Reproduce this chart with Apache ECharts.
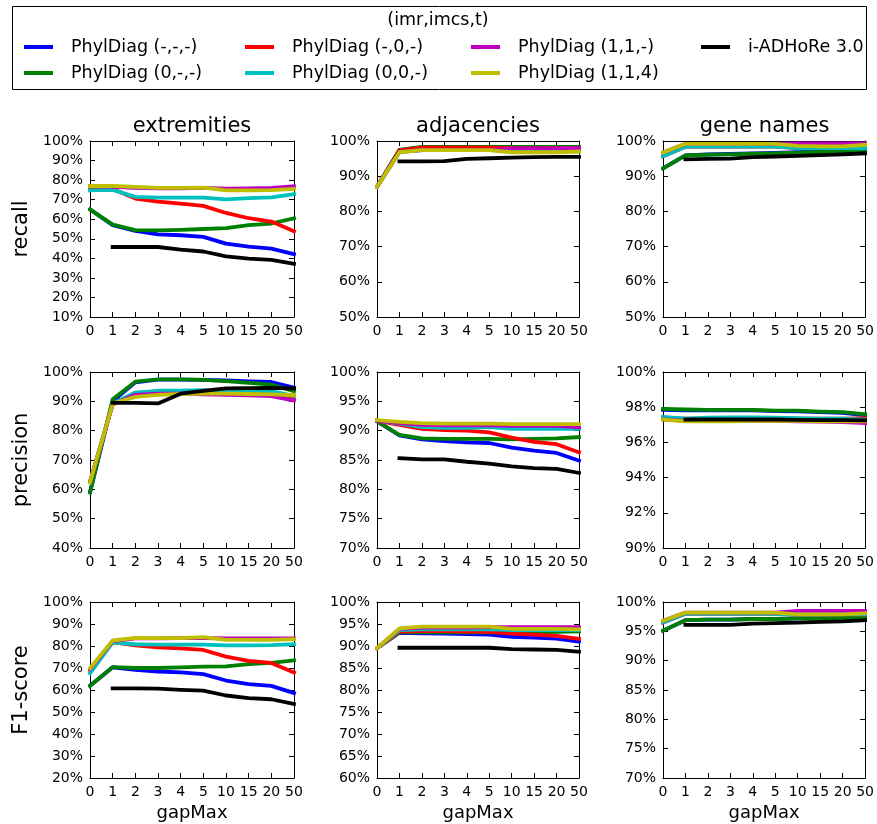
<!DOCTYPE html>
<html>
<head>
<meta charset="utf-8">
<script src="https://cdn.jsdelivr.net/npm/echarts@6/dist/echarts.min.js"></script>
<style>
html,body{margin:0;padding:0;background:#fff;}
#chart{width:877px;height:824px;}
</style>
</head>
<body>
<div id="chart"></div>
<script>
const categories = ['0','1','2','3','4','5','10','15','20','50'];
const seriesNames = ['PhylDiag (-,-,-)','PhylDiag (0,-,-)','PhylDiag (-,0,-)','PhylDiag (0,0,-)','PhylDiag (1,1,-)','PhylDiag (1,1,4)','i-ADHoRe 3.0'];
const seriesColors = ['#0000ff','#008000','#ff0000','#00bfbf','#bf00bf','#bfbf00','#000000'];
const columnTitles = ['extremities','adjacencies','gene names'];
const rowTitles = ['recall','precision','F1-score'];
const legendTitle = '(imr,imcs,t)';
const xAxisName = 'gapMax';
const yMins = [10,50,50, 40,70,90, 20,60,70];
const yMax = 100;
const yIntervals = [10,10,10, 10,5,2, 10,5,5];

// order: blue, green, red, cyan, magenta, yellow, black
const recallExtremities = [
  [65, 57, 54, 52.3, 51.8, 51, 47.5, 46, 45, 42.1],
  [65, 57.2, 54.4, 54.3, 54.6, 55, 55.4, 57, 57.8, 60.5],
  [76, 75.5, 70.6, 69, 68, 66.8, 63.2, 60.5, 58.8, 53.9],
  [74.8, 75, 71.4, 71, 71, 71, 70.2, 70.8, 71.2, 72.8],
  [77, 76.5, 76, 75.8, 75.8, 76, 75.6, 75.8, 76, 76.8],
  [77, 77, 76.5, 76, 76, 76.2, 74.8, 74.8, 74.9, 75.5],
  [null, 45.8, 45.8, 45.8, 44.5, 43.5, 41, 39.8, 39.2, 37.2]
];
const recallAdjacencies = [
  [87, 97.4, 98.2, 98.2, 98.2, 98.2, 98.1, 98.1, 98.1, 98.1],
  [87, 97.5, 98.3, 98.3, 98.3, 98.3, 98.3, 98.3, 98.3, 98.3],
  [87, 97.3, 98.1, 98.1, 98.1, 98.1, 98.0, 98.0, 98.0, 98.0],
  [87, 96.9, 97.4, 97.4, 97.4, 97.4, 97.2, 97.2, 97.2, 97.3],
  [87, 96.9, 97.4, 97.4, 97.4, 97.4, 97.9, 97.9, 97.9, 98.0],
  [87, 96.8, 97.4, 97.4, 97.4, 97.4, 96.8, 96.8, 96.8, 97.0],
  [null, 94.2, 94.2, 94.3, 94.9, 95.1, 95.3, 95.4, 95.5, 95.5]
];
const recallGeneNames = [
  [92.2, 95.9, 96.2, 96.3, 96.5, 96.6, 96.8, 96.9, 97.0, 97.3],
  [92.2, 95.9, 96.1, 96.2, 96.4, 96.5, 96.7, 96.9, 97.1, 97.4],
  [95.7, 98.4, 98.4, 98.4, 98.4, 98.4, 98.0, 98.0, 98.0, 98.0],
  [95.7, 98.4, 98.4, 98.4, 98.4, 98.4, 98.0, 98.0, 98.0, 97.9],
  [96.7, 99.2, 99.2, 99.2, 99.2, 99.2, 99.3, 99.3, 99.3, 99.3],
  [96.7, 99.2, 99.2, 99.2, 99.2, 99.2, 98.6, 98.5, 98.5, 98.9],
  [null, 94.8, 94.9, 95.0, 95.4, 95.6, 95.8, 96.0, 96.2, 96.5]
];
const precisionExtremities = [
  [59, 90, 96.5, 97.4, 97.4, 97.3, 97.1, 96.8, 96.6, 94.7],
  [58.9, 90.7, 96.7, 97.5, 97.5, 97.3, 96.9, 96.3, 95.7, 93.5],
  [62.5, 89, 92.8, 93.4, 93.4, 93.5, 93.5, 93.3, 93.1, 91.5],
  [62.5, 89.2, 93.0, 93.6, 93.6, 93.8, 93.8, 93.7, 93.5, 91.8],
  [62.5, 89, 92.2, 92.6, 92.6, 92.4, 92.2, 92, 91.8, 90.3],
  [62.4, 89.2, 91.5, 92.2, 92.5, 92.6, 92.6, 92.5, 92.4, 92.1],
  [null, 89.5, 89.5, 89.3, 92.6, 93.6, 94.4, 94.5, 94.6, 94.4]
];
const precisionAdjacencies = [
  [91.6, 89.2, 88.5, 88.2, 88.0, 87.9, 87.1, 86.6, 86.2, 84.9],
  [91.6, 89.3, 88.7, 88.6, 88.6, 88.6, 88.5, 88.6, 88.7, 88.9],
  [91.7, 91.0, 90.3, 90.1, 90.0, 89.7, 88.8, 88.1, 87.7, 86.3],
  [91.7, 91.2, 90.6, 90.5, 90.5, 90.6, 90.3, 90.3, 90.3, 90.3],
  [91.7, 91.3, 91.0, 90.9, 90.9, 90.9, 90.8, 90.8, 90.8, 90.6],
  [91.8, 91.5, 91.3, 91.2, 91.2, 91.2, 91.1, 91.1, 91.1, 91.1],
  [null, 85.3, 85.1, 85.1, 84.7, 84.4, 83.9, 83.6, 83.5, 82.8]
];
const precisionGeneNames = [
  [97.85, 97.82, 97.82, 97.82, 97.82, 97.78, 97.76, 97.72, 97.68, 97.55],
  [97.9, 97.87, 97.85, 97.85, 97.85, 97.8, 97.8, 97.75, 97.72, 97.6],
  [97.4, 97.35, 97.35, 97.35, 97.35, 97.35, 97.35, 97.35, 97.35, 97.38],
  [97.45, 97.35, 97.4, 97.42, 97.42, 97.4, 97.38, 97.35, 97.35, 97.3],
  [97.3, 97.22, 97.22, 97.22, 97.22, 97.22, 97.2, 97.18, 97.15, 97.1],
  [97.3, 97.2, 97.2, 97.2, 97.22, 97.22, 97.22, 97.2, 97.2, 97.2],
  [null, 97.3, 97.3, 97.3, 97.3, 97.3, 97.28, 97.27, 97.27, 97.25]
];
const f1Extremities = [
  [61.9, 70.3, 69.2, 68.4, 68.0, 67.2, 64.3, 62.7, 61.9, 58.6],
  [61.9, 70.4, 70.0, 70.0, 70.3, 70.6, 70.7, 71.8, 72.3, 73.5],
  [69, 81.8, 80.3, 79.4, 78.9, 78.2, 75.2, 73.2, 72.3, 67.9],
  [67.6, 81.6, 80.8, 80.6, 80.6, 80.6, 80.3, 80.3, 80.4, 80.8],
  [69.5, 82.2, 83.5, 83.5, 83.6, 83.6, 83.5, 83.5, 83.5, 83.5],
  [69.9, 82.5, 83.7, 83.6, 83.6, 84.0, 82.8, 82.8, 82.8, 83.1],
  [null, 60.7, 60.7, 60.6, 60.1, 59.7, 57.5, 56.3, 55.8, 53.6]
];
const f1Adjacencies = [
  [89.5, 93.0, 92.9, 92.8, 92.7, 92.6, 92.1, 91.9, 91.7, 91.0],
  [89.5, 93.1, 93.1, 93.1, 93.1, 93.1, 93.1, 93.1, 93.2, 93.3],
  [89.5, 93.3, 93.4, 93.4, 93.3, 93.2, 92.8, 92.6, 92.3, 91.6],
  [89.5, 93.6, 93.8, 93.8, 93.8, 93.8, 93.6, 93.6, 93.6, 93.6],
  [89.5, 93.9, 94.2, 94.2, 94.2, 94.3, 94.3, 94.3, 94.3, 94.3],
  [89.5, 94.0, 94.4, 94.4, 94.4, 94.4, 93.9, 93.9, 93.9, 93.8],
  [null, 89.6, 89.6, 89.6, 89.6, 89.6, 89.3, 89.2, 89.1, 88.7]
];
const f1GeneNames = [
  [95.1, 96.9, 97.0, 97.0, 97.1, 97.1, 97.2, 97.2, 97.3, 97.3],
  [95.1, 96.9, 97.0, 97.0, 97.1, 97.1, 97.2, 97.2, 97.3, 97.3],
  [96.5, 98.0, 98.0, 98.0, 98.0, 98.0, 97.9, 97.9, 97.9, 97.9],
  [96.5, 98.0, 98.0, 98.0, 98.0, 98.0, 97.9, 97.9, 97.9, 97.9],
  [96.8, 98.2, 98.2, 98.2, 98.2, 98.2, 98.5, 98.5, 98.5, 98.5],
  [96.8, 98.2, 98.2, 98.2, 98.2, 98.2, 97.9, 97.9, 97.9, 98.1],
  [null, 96.1, 96.1, 96.1, 96.3, 96.4, 96.5, 96.6, 96.7, 96.9]
];
const panels = [recallExtremities, recallAdjacencies, recallGeneNames,
                precisionExtremities, precisionAdjacencies, precisionGeneNames,
                f1Extremities, f1Adjacencies, f1GeneNames];

const FONT = 'DejaVu Sans';
const colLeft = [90, 377, 663];
const colWidth = [204, 202, 203];
const rowTop = [141, 372, 602];
const panelHeight = 176;

const grids = [], xAxes = [], yAxes = [], series = [];
panels.forEach((data, i) => {
  const r = Math.floor(i / 3), c = i % 3;
  grids.push({left: colLeft[c], top: rowTop[r], width: colWidth[c], height: panelHeight, containLabel: false});
  const tick = {show: true, inside: true, length: 5, lineStyle: {color: '#000', width: 1}};
  const line = {show: true, onZero: false, lineStyle: {color: '#000', width: 1}};
  xAxes.push({
    type: 'category', gridIndex: i, data: categories, boundaryGap: false, position: 'bottom',
    axisLine: line, axisTick: Object.assign({interval: 0}, tick),
    axisLabel: {interval: 0, fontFamily: FONT, fontSize: 14, color: '#000', margin: 7},
    splitLine: {show: false},
    name: r === 2 ? xAxisName : '', nameLocation: 'middle', nameGap: 26,
    nameTextStyle: {fontFamily: FONT, fontSize: 18, color: '#000'}
  });
  xAxes.push({
    type: 'category', gridIndex: i, data: categories, boundaryGap: false, position: 'top',
    axisLine: line, axisTick: Object.assign({interval: 0}, tick),
    axisLabel: {show: false}, splitLine: {show: false}
  });
  yAxes.push({
    type: 'value', gridIndex: i, min: yMins[i], max: yMax, interval: yIntervals[i], position: 'left',
    axisLine: line, axisTick: tick,
    axisLabel: {formatter: '{value}%', fontFamily: FONT, fontSize: 14, color: '#000', margin: 7},
    splitLine: {show: false}
  });
  yAxes.push({
    type: 'value', gridIndex: i, min: yMins[i], max: yMax, interval: yIntervals[i], position: 'right',
    axisLine: line, axisTick: tick, axisLabel: {show: false}, splitLine: {show: false}
  });
  data.forEach((vals, k) => {
    series.push({
      type: 'line', name: seriesNames[k], data: vals,
      xAxisIndex: 2 * i, yAxisIndex: 2 * i,
      symbol: 'none', showSymbol: false, connectNulls: false,
      lineStyle: {color: seriesColors[k], width: 3.8, join: 'round', cap: 'square'},
      itemStyle: {color: seriesColors[k]},
      z: 2 + k * 0.01, zlevel: 0
    });
  });
});

const legendCols = [[0, 1], [2, 3], [4, 5], [6]];
const legendLeft = [24, 245, 471, 701];
const legends = legendCols.map((idxs, j) => ({
  show: true, orient: 'vertical', left: legendLeft[j], top: 38, padding: 0,
  itemWidth: 29, itemHeight: 4, itemGap: 8, icon: 'rect', selectedMode: false,
  data: idxs.map(k => seriesNames[k]),
  formatter: name => '{t|' + name + '}',
  textStyle: {fontFamily: FONT, fontSize: 17.5, color: '#000',
    rich: {t: {fontFamily: FONT, fontSize: 17.5, lineHeight: 17, color: '#000', padding: [0, 0, 0, 13]}}}
}));

const graphics = [
  {type: 'rect', left: 12, top: 6, shape: {x: 0, y: 0, width: 854, height: 83},
   style: {fill: '#fff', stroke: '#000', lineWidth: 1}, z: -10},
  {type: 'text', x: 438, y: 20, style: {text: legendTitle, font: '17.5px "DejaVu Sans"', fill: '#000', align: 'center', verticalAlign: 'middle'}}
];
columnTitles.forEach((t, c) => {
  graphics.push({type: 'text', x: colLeft[c] + colWidth[c] / 2, y: 127,
    style: {text: t, font: '21px "DejaVu Sans"', fill: '#000', align: 'center', verticalAlign: 'middle'}});
});
rowTitles.forEach((t, r) => {
  graphics.push({type: 'text', x: 22, y: rowTop[r] + panelHeight / 2, rotation: Math.PI / 2,
    style: {text: t, font: '21px "DejaVu Sans"', fill: '#000', align: 'center', verticalAlign: 'middle'}});
});

const chart = echarts.init(document.getElementById('chart'), null, {renderer: 'canvas'});
chart.setOption({
  backgroundColor: '#fff',
  animation: false,
  textStyle: {fontFamily: FONT},
  grid: grids, xAxis: xAxes, yAxis: yAxes, series: series,
  legend: legends, graphic: graphics
});
</script>
</body>
</html>
